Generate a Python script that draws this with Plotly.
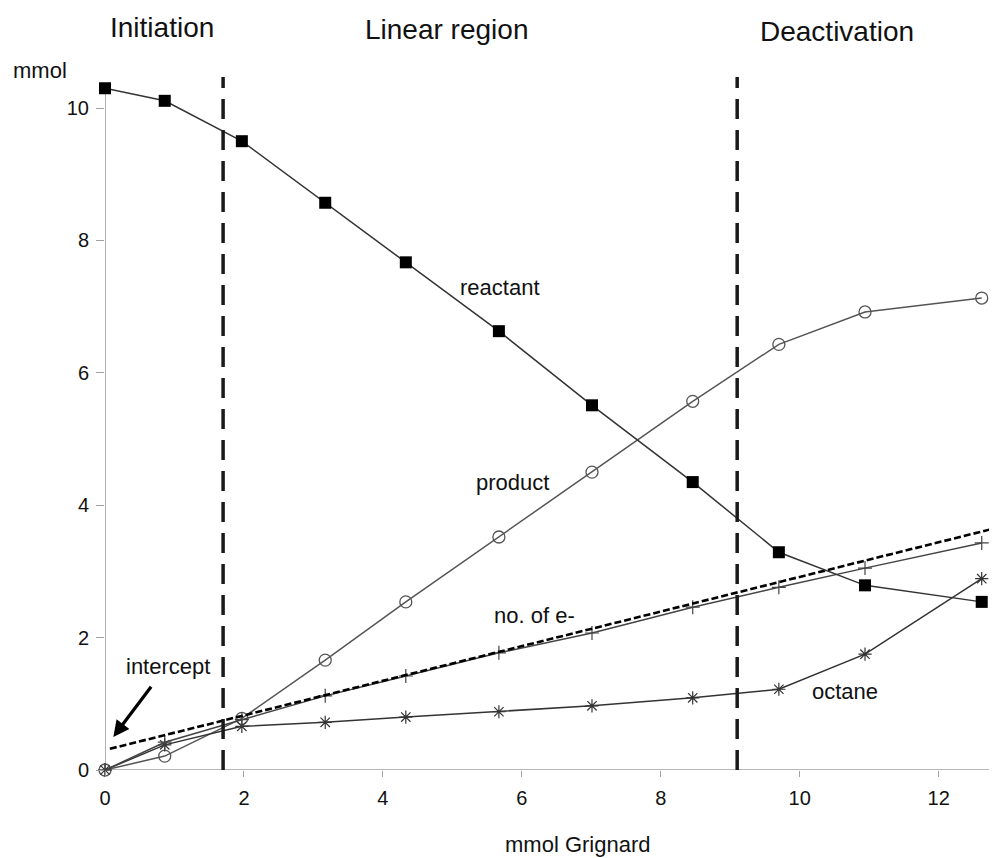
import plotly.graph_objects as go

# ---- data ----
grignard = [0, 0.86, 1.97, 3.17, 4.33, 5.67, 7.01, 8.46, 9.70, 10.94, 12.62]
reactant = [10.30, 10.11, 9.50, 8.57, 7.67, 6.63, 5.51, 4.35, 3.29, 2.79, 2.54]
product = [0, 0.21, 0.78, 1.66, 2.54, 3.52, 4.50, 5.57, 6.43, 6.92, 7.13]
electrons = [0, 0.42, 0.76, 1.12, 1.42, 1.77, 2.07, 2.46, 2.76, 3.05, 3.43]
octane = [0, 0.38, 0.66, 0.72, 0.80, 0.88, 0.97, 1.09, 1.22, 1.75, 2.89]
fit_x = [0.07, 12.84]
fit_y = [0.32, 3.66]
phase_bounds = [1.70, 9.10]
phase_labels = ["Initiation", "Linear region", "Deactivation"]
phase_label_x = [0.064, 0.383, 0.821]
phase_label_y = [1.071, 1.069, 1.065]
x_ticks = [0, 2, 4, 6, 8, 10, 12]
y_ticks = [0, 2, 4, 6, 8, 10]

FONT = "Liberation Sans, Arial, Helvetica, sans-serif"
X_RANGE = [0, 12.84]
Y_RANGE = [0, 10.47]

fig = go.Figure()

fig.add_trace(go.Scatter(
    x=grignard, y=product, mode="lines+markers", cliponaxis=False,
    line=dict(color="#555555", width=1.5),
    marker=dict(symbol="circle-open", size=12, color="#555555", line=dict(width=1.3)),
    name="product"))
fig.add_trace(go.Scatter(
    x=grignard, y=octane, mode="lines+markers", cliponaxis=False,
    line=dict(color="#333333", width=1.5),
    marker=dict(symbol="asterisk-open", size=11, color="#333333", line=dict(width=1.2)),
    name="octane"))
fig.add_trace(go.Scatter(
    x=grignard, y=electrons, mode="lines+markers", cliponaxis=False,
    line=dict(color="#444444", width=1.5),
    marker=dict(symbol="cross-thin-open", size=10, color="#444444", line=dict(width=1.2)),
    name="no. of e-"))
fig.add_trace(go.Scatter(
    x=fit_x, y=fit_y, mode="lines", cliponaxis=False,
    line=dict(color="#000000", width=2.6, dash="7px,3px"),
    name="fit"))
fig.add_trace(go.Scatter(
    x=grignard, y=reactant, mode="lines+markers", cliponaxis=False,
    line=dict(color="#333333", width=1.5),
    marker=dict(symbol="square", size=12, color="#000000"),
    name="reactant"))

# phase boundaries
for xb in phase_bounds:
    fig.add_shape(type="line", xref="x", yref="paper", x0=xb, x1=xb, y0=0, y1=1,
                  line=dict(color="#1a1a1a", width=3.5, dash="20px,11px"), layer="above")

# axis lines drawn as shapes
fig.add_shape(type="line", xref="x", yref="y", x0=0, x1=0, y0=0, y1=10.32,
              line=dict(color="#a0a0a0", width=1.6), layer="below")
fig.add_shape(type="line", xref="x", yref="y", x0=-0.07, x1=X_RANGE[1], y0=0, y1=0,
              line=dict(color="#a0a0a0", width=1.6), layer="below")

ann = []
for lab, lx, ly in zip(phase_labels, phase_label_x, phase_label_y):
    ann.append(dict(x=lx, y=ly, xref="paper", yref="paper", text=lab, showarrow=False,
                    xanchor="center", yanchor="middle",
                    font=dict(size=28, color="#111111", family=FONT)))
curve_labels = [("reactant", 5.69, 7.29), ("product", 5.86, 4.34),
                ("no. of e-", 6.18, 2.34), ("octane", 10.65, 1.18),
                ("intercept", 0.91, 1.56)]
for t, lx, ly in curve_labels:
    ann.append(dict(x=lx, y=ly, xref="x", yref="y", text=t, showarrow=False,
                    xanchor="center", yanchor="middle",
                    font=dict(size=22, color="#111111", family=FONT)))
ann.append(dict(x=-0.073, y=1.010, xref="paper", yref="paper", text="mmol", showarrow=False,
                xanchor="center", yanchor="middle",
                font=dict(size=22, color="#111111", family=FONT)))
ann.append(dict(x=0.530, y=-0.108, xref="paper", yref="paper", text="mmol Grignard",
                xanchor="center", yanchor="middle",
                showarrow=False, font=dict(size=22, color="#111111", family=FONT)))
# intercept arrow
ann.append(dict(x=fit_x[0] + 0.05, y=0.50, ax=0.68, ay=1.28, xref="x", yref="y",
                axref="x", ayref="y", text="", showarrow=True, arrowhead=2,
                arrowsize=1.0, arrowwidth=3.2, arrowcolor="#000000", standoff=0))

# the page body adds an 8px margin, so the figure is sized/offset to compensate
fig.update_layout(
    width=989, height=850,
    margin=dict(l=97, r=0, t=69, b=88),
    paper_bgcolor="white", plot_bgcolor="white",
    showlegend=False,
    font=dict(family=FONT, color="#111111"),
    annotations=ann,
    xaxis=dict(range=X_RANGE, tickvals=x_ticks, showgrid=False, zeroline=False,
               showline=False, ticks="outside", ticklen=6, tickcolor="#a0a0a0",
               tickwidth=1.2, tickfont=dict(size=20, family=FONT, color="#111111"),
               ticklabelstandoff=4),
    yaxis=dict(range=Y_RANGE, tickvals=y_ticks, showgrid=False, zeroline=False,
               showline=False, ticks="outside", ticklen=8, tickcolor="#a0a0a0",
               tickwidth=1.2, tickfont=dict(size=20, family=FONT, color="#111111"),
               ticklabelstandoff=3),
)

fig.write_html("out.html")
